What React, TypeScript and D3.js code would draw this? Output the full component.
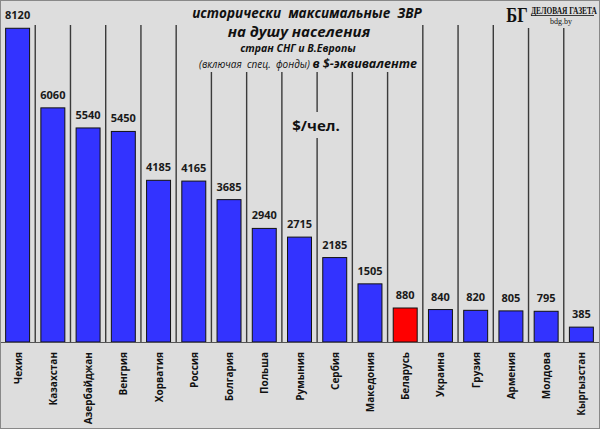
import React from "react";
import * as d3 from "d3";

const categories = [
  "Чехия", "Казахстан", "Азербайджан", "Венгрия", "Хорватия", "Россия",
  "Болгария", "Польша", "Румыния", "Сербия", "Македония", "Беларусь",
  "Украина", "Грузия", "Армения", "Молдова", "Кыргызстан",
];
const values = [8120, 6060, 5540, 5450, 4185, 4165, 3685, 2940, 2715, 2185, 1505, 880, 840, 820, 805, 795, 385];
const highlight = "Беларусь";

const titleLine1 = "исторически  максимальные  ЗВР";
const titleLine2 = "на душу населения";
const titleLine3 = "стран СНГ и В.Европы";
const titleLine4a = "(включая  спец.  фонды) ";
const titleLine4b = "в $-эквиваленте";
const unitLabel = "$/чел.";

const W = 600;
const H = 429;
const BG = "#dddddd";
const FONT = "'Open Sans', 'Noto Sans', sans-serif";

export default function App() {
  const baseY = 342;
  const x = d3.scaleBand<string>().domain(categories).range([0, 599]).paddingInner(0.32).paddingOuter(0.16);
  const y = d3.scaleLinear().domain([0, 8800]).range([baseY, 2]);
  const step = x.step();
  const gap = step * 0.32;
  const sepTop = 25;

  return (
    <svg width={W} height={H} style={{ position: "absolute", left: 0, top: 0, display: "block" }}>
      <rect x={0} y={0} width={W} height={H} fill={BG} />
      {/* separators */}
      {categories.slice(1).map((c) => {
        const sx = (x(c) as number) - gap / 2;
        return <line key={"s" + c} x1={sx} x2={sx} y1={sepTop} y2={baseY} stroke="#3a3a3a" strokeWidth={1.4} />;
      })}
      {/* bars */}
      {categories.map((c, i) => (
        <rect
          key={"b" + c}
          x={x(c) as number}
          y={y(values[i])}
          width={x.bandwidth()}
          height={baseY - y(values[i])}
          fill={c === highlight ? "#ff0000" : "#3333ff"}
          stroke="#111"
          strokeWidth={1}
        />
      ))}
      {/* value labels */}
      {categories.map((c, i) => (
        <text
          key={"v" + c}
          x={(x(c) as number) + x.bandwidth() / 2}
          y={y(values[i]) - 9}
          textAnchor="middle"
          fontFamily={FONT}
          fontWeight={700}
          fontSize={11}
          fill="#1a1a1a"
        >
          {values[i]}
        </text>
      ))}
      {/* baseline */}
      <line x1={0} x2={W} y1={baseY + 0.5} y2={baseY + 0.5} stroke="#555" strokeWidth={1} />
      {/* category labels */}
      {categories.map((c) => {
        const cx = (x(c) as number) + x.bandwidth() / 2;
        return (
          <text
            key={"c" + c}
            transform={`translate(${cx + 4},${352}) rotate(-90)`}
            textAnchor="end"
            fontFamily={FONT}
            fontWeight={700}
            fontSize={10}
            fill="#111"
          >
            {c}
          </text>
        );
      })}
      {/* title block */}
      <rect x={186} y={0} width={232} height={72} fill={BG} />
      <g fontFamily={FONT} fontStyle="italic" fontWeight={700} fill="#111" textAnchor="middle">
        <text x={307} y={18} fontSize={13.5} xmlSpace="preserve">{titleLine1}</text>
        <text x={299} y={37} fontSize={15}>{titleLine2}</text>
        <text x={298} y={52} fontSize={10.5}>{titleLine3}</text>
        <text x={308} y={68} fontSize={12.5} xmlSpace="preserve">
          <tspan fontWeight={400} fontSize={10}>{titleLine4a}</tspan>
          <tspan>{titleLine4b}</tspan>
        </text>
      </g>
      {/* unit label */}
      <rect x={293} y={112} width={48} height={26} fill={BG} />
      <text x={316} y={131} textAnchor="middle" fontFamily={FONT} fontWeight={700} fontSize={15} fill="#111">
        {unitLabel}
      </text>
      {/* logo */}
      <rect x={505} y={0} width={94} height={28} fill={BG} />
      <text transform="translate(517,22) scale(0.75,1)" textAnchor="middle" fontFamily="'Liberation Serif', serif" fontWeight={700} fontSize={22} fill="#111">
        БГ
      </text>
      <text transform="translate(531,13.5) scale(1,1.35)" fontFamily="'Liberation Serif', serif" fontWeight={700} fontSize={7.4} fill="#111">
        ДЕЛОВАЯ ГАЗЕТА
      </text>
      <line x1={531} x2={594} y1={15.5} y2={15.5} stroke="#111" strokeWidth={0.8} />
      <text x={561} y={24} textAnchor="middle" fontFamily="'Liberation Serif', serif" fontSize={8} fill="#111">
        bdg.by
      </text>
      {/* frame */}
      <rect x={0.5} y={0.5} width={W - 1} height={H - 1} fill="none" stroke="#888" strokeWidth={1} />
    </svg>
  );
}
